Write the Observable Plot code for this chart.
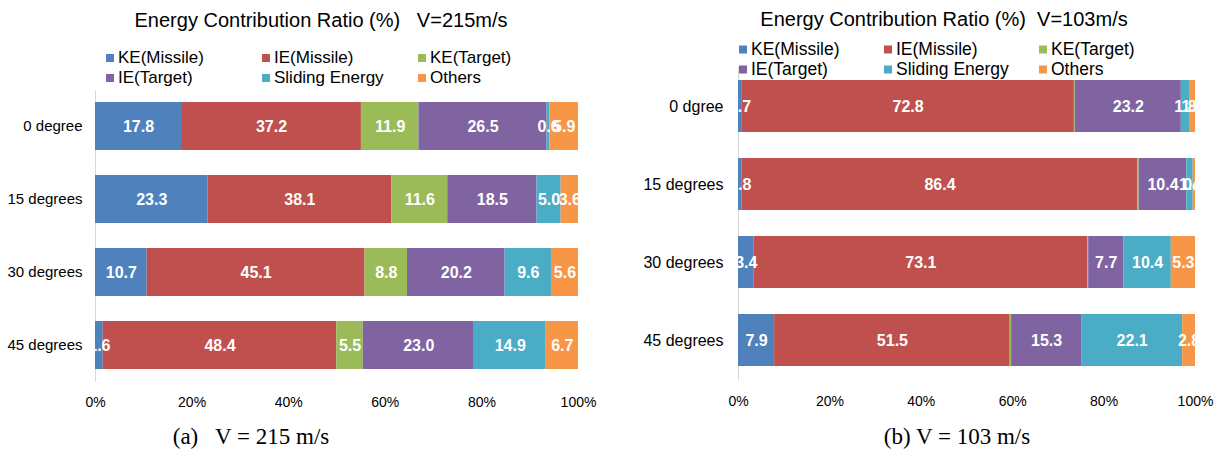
<!DOCTYPE html>
<html>
<head>
<meta charset="utf-8">
<script src="https://cdn.jsdelivr.net/npm/d3@7"></script>
<script src="https://cdn.jsdelivr.net/npm/@observablehq/plot@0.6"></script>
<style>
  html, body { margin: 0; padding: 0; background: #fff; }
  #page { position: relative; width: 1225px; height: 459px; overflow: hidden; font-family: "Liberation Sans", Arial, sans-serif; color: #000; }
  .title { position: absolute; white-space: pre; font-size: 20px; transform: translate(-50%, -50%); }
  .legend-item { position: absolute; white-space: nowrap; transform: translateY(-50%); display: flex; align-items: center; }
  .swatch { display: inline-block; width: 8px; height: 8px; margin-right: 4px; }
  .caption { position: absolute; white-space: pre; font-family: "Liberation Serif", "Times New Roman", serif; font-size: 23px; transform: translate(-50%, -50%); }
  .chart { position: absolute; }
</style>
</head>
<body>
<div id="page"></div>
<script>
// Energy components, in stacking order, with their fill colours
const seriesNames = ["KE(Missile)", "IE(Missile)", "KE(Target)", "IE(Target)", "Sliding Energy", "Others"];
const seriesColors = ["#4f81bd", "#c0504d", "#9bbb59", "#8064a2", "#4bacc6", "#f79646"];

// Impact angles (row labels) for each velocity
const anglesA = ["0 degree", "15 degrees", "30 degrees", "45 degrees"];
const anglesB = ["0 dgree", "15 degrees", "30 degrees", "45 degrees"];

// Energy contribution ratio (%) per angle, columns follow seriesNames
const ratios215 = [
  [17.8, 37.2, 11.9, 26.5, 0.6, 5.9],
  [23.3, 38.1, 11.6, 18.5, 5.0, 3.6],
  [10.7, 45.1, 8.8, 20.2, 9.6, 5.6],
  [1.6, 48.4, 5.5, 23.0, 14.9, 6.7]
];
const ratios103 = [
  [0.7, 72.8, 0.2, 23.2, 1.8, 1.3],
  [0.8, 86.4, 0.3, 10.4, 1.4, 0.5],
  [3.4, 73.1, 0.2, 7.7, 10.4, 5.3],
  [7.9, 51.5, 0.3, 15.3, 22.1, 2.8]
];

const xTicks = [0, 0.2, 0.4, 0.6, 0.8, 1];

const page = document.getElementById("page");

function addText(cls, text, x, y, extra = {}) {
  const el = document.createElement("div");
  el.className = cls;
  el.textContent = text;
  el.style.left = x + "px";
  el.style.top = y + "px";
  Object.assign(el.style, extra);
  page.appendChild(el);
  return el;
}

function addLegend(columnsX, rowsY, fontSize) {
  seriesNames.forEach((name, i) => {
    const item = document.createElement("div");
    item.className = "legend-item";
    item.style.left = columnsX[i % 3] + "px";
    item.style.top = rowsY[Math.floor(i / 3)] + "px";
    item.style.fontSize = fontSize + "px";
    const sw = document.createElement("span");
    sw.className = "swatch";
    sw.style.background = seriesColors[i];
    item.appendChild(sw);
    item.appendChild(document.createTextNode(name));
    page.appendChild(item);
  });
}

function tidy(angles, ratios) {
  const rows = [];
  angles.forEach((a, i) => {
    seriesNames.forEach((s, j) => rows.push({angle: a, series: s, value: ratios[i][j]}));
  });
  return rows;
}

function panel(angles, ratios, box, opts) {
  const data = tidy(angles, ratios);
  const stackOpts = {x: "value", y: "angle", z: "series", order: seriesNames, offset: "normalize"};
  const chart = Plot.plot({
    width: box.width,
    height: box.height,
    marginLeft: box.marginLeft,
    marginRight: box.marginRight,
    marginTop: box.marginTop,
    marginBottom: box.marginBottom,
    style: {fontFamily: "Liberation Sans, Arial, sans-serif", background: "transparent", color: "#000"},
    x: {domain: [0, 1], ticks: xTicks, tickFormat: d3.format(".0%"), label: null},
    y: {domain: angles, paddingInner: opts.paddingInner, paddingOuter: opts.paddingOuter, label: null},
    color: {domain: seriesNames, range: seriesColors},
    marks: [
      Plot.ruleX([0], {stroke: "#d9d9d9", strokeWidth: 1}),
      Plot.barX(data, Plot.stackX({...stackOpts, fill: "series"})),
      Plot.text(data, Plot.stackX({
        ...stackOpts,
        text: d => d.value >= 0.5 ? d.value.toFixed(1) : "",
        fill: "white",
        fontWeight: "bold",
        fontSize: opts.valueSize
      })),
      Plot.axisX({ticks: xTicks, tickFormat: d3.format(".0%"), tickSize: 0, tickPadding: opts.xPad, fontSize: 14, label: null}),
      Plot.axisY({tickSize: 0, tickPadding: opts.yPad, fontSize: opts.yLabelSize, label: null})
    ]
  });
  const holder = document.createElement("div");
  holder.className = "chart";
  holder.style.left = box.left + "px";
  holder.style.top = box.top + "px";
  holder.appendChild(chart);
  page.appendChild(holder);
}

// (a) V = 215 m/s
addText("title", "Energy Contribution Ratio (%)   V=215m/s", 321, 20);
addLegend([106, 262, 418], [58, 78], 17);
panel(anglesA, ratios215,
  {left: 0, top: 80, width: 612, height: 340, marginLeft: 95, marginRight: 34, marginTop: 10, marginBottom: 38},
  {paddingInner: 0.34, paddingOuter: 0.17, valueSize: 16, xPad: 15, yPad: 13, yLabelSize: 15});
addText("caption", "(a)   V = 215 m/s", 251, 437);

// (b) V = 103 m/s
addText("title", "Energy Contribution Ratio (%)  V=103m/s", 944, 19);
addLegend([739, 884, 1039], [49, 69], 17.5);
panel(anglesB, ratios103,
  {left: 612, top: 60, width: 613, height: 360, marginLeft: 126, marginRight: 30, marginTop: 7, marginBottom: 40},
  {paddingInner: 0.33, paddingOuter: 0.16, valueSize: 16, xPad: 16, yPad: 15, yLabelSize: 16});
addText("caption", "(b) V = 103 m/s", 957, 437);
</script>
</body>
</html>
